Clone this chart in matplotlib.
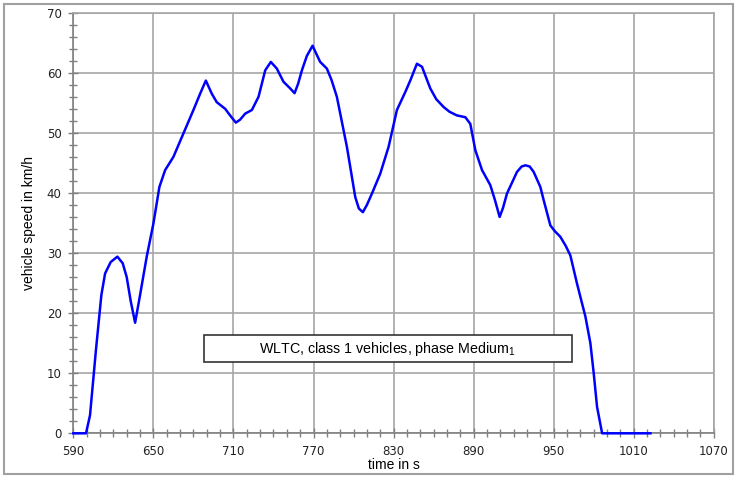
import numpy as np
import matplotlib
matplotlib.use('Agg')
from matplotlib import pyplot as plt
from matplotlib.patches import Rectangle

# speed trace (s, km/h)
time_s = [590, 599.5, 602.5, 607, 611, 613.8, 618, 623, 627, 630, 633, 636.3,
          640, 645, 650, 654.5, 658.8, 665, 672.5, 680, 685, 689.3, 693.8,
          697.5, 703.8, 707.5, 711.8, 715, 718.8, 723.8, 728.8, 733.8, 738,
          742.5, 747.5, 752.5, 755.8, 758.5, 761.3, 765, 769.3, 772, 775, 780,
          783.5, 787.5, 795, 801.3, 804, 807, 810, 813.8, 820, 826.3, 832.5,
          838.8, 842.5, 847.5, 851.3, 857.5, 862, 867.5, 872, 877.5, 883.8,
          887.5, 891.3, 896.3, 902.5, 906, 909.5, 912, 915, 922.5, 926, 928.8,
          932, 935, 940, 942.5, 947.5, 951, 955, 959, 962.5, 967.5, 973.8,
          977.5, 980, 982.5, 986.3, 1022.5]
speed_kmh = [0, 0, 3, 14, 23, 26.6, 28.5, 29.4, 28.3, 26, 22, 18.4,
             23, 29.4, 34.9, 41, 43.8, 46, 49.9, 53.8, 56.5, 58.7, 56.5,
             55.1, 54, 52.9, 51.7, 52.2, 53.2, 53.8, 56, 60.4, 61.8,
             60.7, 58.5, 57.4, 56.6, 58.2, 60.4, 62.8, 64.5, 63.2, 61.8, 60.7,
             58.8, 56, 47.7, 39.3, 37.4, 36.8, 38, 39.9, 43.2, 47.7, 53.8,
             56.8, 58.7, 61.5, 61, 57.4, 55.6, 54.3, 53.5, 52.9, 52.6,
             51.5, 47.1, 43.8, 41.3, 38.8, 36, 37.5, 39.9, 43.5, 44.4, 44.6,
             44.4, 43.5, 41, 38.8, 34.6, 33.6, 32.7, 31.2, 29.6, 24.9, 19.4,
             15, 10, 4.4, 0, 0]

x_ticks = list(range(590, 1071, 60))
y_ticks = list(range(0, 71, 10))
caption = 'WLTC, class 1 vehicles, phase Medium$_1$'

plt.rcParams['mathtext.default'] = 'regular'

fig = plt.figure(figsize=(7.43, 4.78), dpi=100)
ax = fig.add_axes([0.0987, 0.0935, 0.862, 0.880])

ax.plot(time_s, speed_kmh, color='#0000ff', lw=1.8, solid_joinstyle='round',
        clip_on=False, zorder=5)

ax.set_xlim(590, 1070)
ax.set_ylim(0, 70)
ax.set_xticks(x_ticks)
ax.set_yticks(y_ticks)
ax.set_xticks(np.arange(590, 1071, 10), minor=True)
ax.set_yticks(np.arange(0, 71, 2), minor=True)
ax.grid(True, which='major', color='#a6a6a6', lw=1.2)
ax.tick_params(which='both', direction='inout', color='#808080', width=1)
ax.tick_params(which='major', length=7, labelsize=8.5, pad=5, labelcolor='#222222')
ax.tick_params(which='minor', length=6)
for s in ax.spines.values():
    s.set_color('#a6a6a6')
    s.set_linewidth(1.2)
ax.spines['left'].set_color('#808080')
ax.spines['bottom'].set_color('#808080')
for lab in ax.get_xticklabels() + ax.get_yticklabels():
    lab.set_family('DejaVu Sans')

ax.set_xlabel('time in s', family='Liberation Sans', fontsize=10, labelpad=0)
ax.set_ylabel('vehicle speed in km/h', family='Liberation Sans', fontsize=10, labelpad=8)

# caption box
ax.add_patch(Rectangle((688, 11.9), 276, 4.45, fc='white', ec='#333333',
                       lw=1.2, zorder=4))
ax.text(825, 14.1, caption, ha='center', va='center',
        family='Liberation Sans', fontsize=10.3, zorder=6)

fig.patches.append(Rectangle((4 / 743, 4 / 478), 729 / 743, 470 / 478,
                             transform=fig.transFigure, fill=False,
                             ec='#a0a0a0', lw=1.5))

fig.savefig('out.png', dpi=100)
